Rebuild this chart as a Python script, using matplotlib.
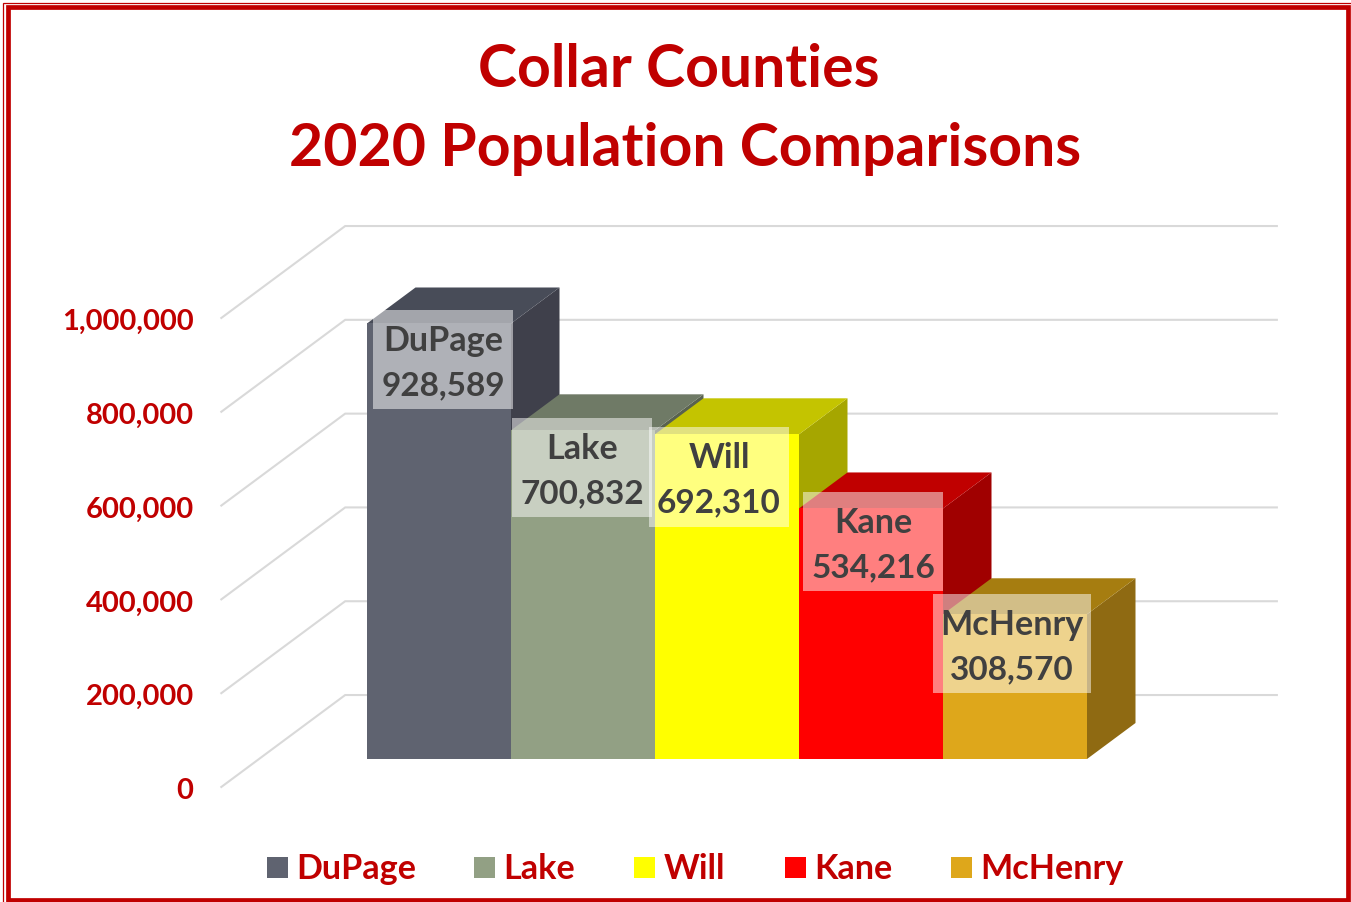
import matplotlib
matplotlib.use("Agg")
import matplotlib.pyplot as plt
from matplotlib.patches import Polygon, Rectangle

# Population 2020 par comté
counties = ["DuPage", "Lake", "Will", "Kane", "McHenry"]
population = [928589, 700832, 692310, 534216, 308570]
tick_values = [0, 200000, 400000, 600000, 800000, 1000000]
title_lines = ["Collar Counties", "2020 Population Comparisons"]

# Couleurs : face avant, dessus, côté
front_colors = ["#5f6370", "#92a084", "#ffff00", "#ff0000", "#dea71b"]
top_colors = ["#484c58", "#6f7a66", "#c4c400", "#c00000", "#a67d10"]
side_colors = ["#3f404b", "#59624f", "#a6a600", "#a00000", "#8f6a12"]

RED = "#c00000"
W, H = 1351, 902
plt.rcParams["font.family"] = ["Lato", "DejaVu Sans"]
plt.rcParams["font.weight"] = "bold"

# Echelle de l'axe : largeur d'une barre et hauteur d'une unité
bar_px = 144.0
val_px = 469.0 / 1000000
x0_px, y0_px = 367.0, 759.0
# Décalage de profondeur d'une barre
depth_x = 48.5 / bar_px
depth_y = 36.0 / val_px

fig = plt.figure(figsize=(W / 100, H / 100), dpi=100)
ax = fig.add_axes([0, 0, 1, 1])
ax.set_xlim(-x0_px / bar_px, (W - x0_px) / bar_px)
ax.set_ylim(-(H - y0_px) / val_px, y0_px / val_px)
ax.axis("off")


def proj(x, v, d=0.0):
    return (x + d * depth_x, v + d * depth_y)


def px_x(p):
    return (p - x0_px) / bar_px


def px_y(p):
    return (y0_px - p) / val_px


# Cadre rouge
def frame(x1, y1, x2, y2, lw):
    fig.add_artist(Rectangle((x1 / W, 1 - y2 / H), (x2 - x1) / W, (y2 - y1) / H,
                             transform=fig.transFigure, fill=False,
                             edgecolor=RED, linewidth=lw))


frame(2.5, 2.5, 1354, 905, 0.9)
frame(8, 7, 1348, 899.5, 3.4)

# Grille : mur gauche puis mur du fond
wall_x = -0.75
wall_right = 5.72
d_front, d_back = -0.777, 1.777
for v in tick_values:
    a = proj(wall_x, v, d_front)
    b = proj(wall_x, v, d_back)
    c = proj(wall_right, v, d_back)
    ax.plot([a[0], b[0], c[0]], [a[1], b[1], c[1]], color="#d9d9d9", lw=1.5, zorder=1,
            solid_joinstyle="miter")
    ax.text(px_x(193.5), a[1] - 1.5 / val_px, f"{v:,}", ha="right", va="center_baseline",
            color=RED, fontsize=21)

# Barres en pseudo 3D, de gauche à droite
for i, v in enumerate(population):
    side = [proj(i + 1, 0), proj(i + 1, v), proj(i + 1, v, 1), proj(i + 1, 0, 1)]
    top = [proj(i, v), proj(i + 1, v), proj(i + 1, v, 1), proj(i, v, 1)]
    z = 2 + i
    ax.add_patch(Polygon(side, closed=True, facecolor=side_colors[i], edgecolor="none", zorder=z))
    ax.add_patch(Polygon(top, closed=True, facecolor=top_colors[i], edgecolor="none", zorder=z))
    ax.bar(i + 0.5, v, width=1, color=front_colors[i], zorder=z)

# Etiquettes : boite (gauche, droite, haut, bas) en pixels
label_boxes = [(373, 513, 310, 409), (512, 652, 418, 517), (649, 789, 427, 527),
               (803, 943, 492, 591), (933, 1091, 594, 693)]
for name, v, box in zip(counties, population, label_boxes):
    x1, x2, y1, y2 = box
    ax.add_patch(Rectangle((px_x(x1), px_y(y2)), (x2 - x1) / bar_px, (y2 - y1) / val_px,
                           facecolor="white", alpha=0.5, edgecolor="none", zorder=10))
    xc = px_x((x1 + x2) / 2)
    ax.text(xc, px_y(y1 + 28), name, ha="center", va="center_baseline", color="#404040",
            fontsize=24.6, zorder=11)
    ax.text(xc, px_y(y1 + 73), f"{v:,}", ha="center", va="center_baseline", color="#404040",
            fontsize=24, zorder=11)

# Titre
ax.text(px_x(678.5), px_y(65), title_lines[0], ha="center", va="center_baseline", color=RED, fontsize=42.4)
ax.text(px_x(685.5), px_y(144), title_lines[1], ha="center", va="center_baseline", color=RED, fontsize=42.4)

# Légende
legend_x = [267, 474, 634, 785, 951]
for name, col, lx in zip(counties, front_colors, legend_x):
    ax.add_patch(Rectangle((px_x(lx), px_y(878)), 21 / bar_px, 21 / val_px, facecolor=col, edgecolor="none"))
    ax.text(px_x(lx + 29.5), px_y(866), name, ha="left", va="center_baseline", color=RED, fontsize=24.6)

fig.savefig("out.png", dpi=100)
